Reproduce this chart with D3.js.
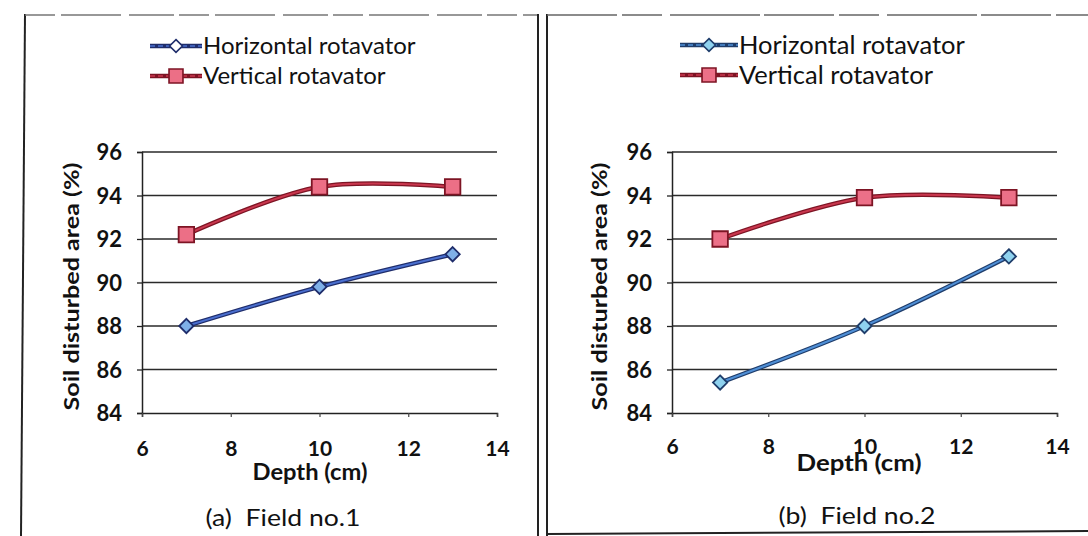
<!DOCTYPE html>
<html>
<head>
<meta charset="utf-8">
<script src="https://cdn.jsdelivr.net/npm/d3@7"></script>
<style>
  html, body { margin: 0; padding: 0; background: #fff; }
  svg { display: block; }
</style>
</head>
<body>
<svg id="chart" width="1088" height="536"></svg>
<script>
// Tillage depth (cm) and percentage of soil disturbed for both rotavators
const depths = [7, 10, 13];
const field1Horizontal = [88.0, 89.8, 91.3];
const field1Vertical   = [92.2, 94.4, 94.4];
const field2Horizontal = [85.4, 88.0, 91.2];
const field2Vertical   = [92.0, 93.9, 93.9];

const xTicks = [6, 8, 10, 12, 14];
const yTicks = [84, 86, 88, 90, 92, 94, 96];
const seriesNames = ["Horizontal rotavator", "Vertical rotavator"];
const panelCaptions = ["(a)  Field no.1", "(b)  Field no.2"];
const xTitle = "Depth (cm)";
const yTitle = "Soil disturbed area (%)";

const svg = d3.select("#chart");
const FONT = "Lato, 'Open Sans', sans-serif";

// Page frame around the two figure panels
const frame = svg.append("g").attr("stroke", "#222").attr("fill", "none");
frame.append("line").attr("x1", 25).attr("y1", 14).attr("x2", 21).attr("y2", 536).attr("stroke-width", 2);
frame.append("line").attr("x1", 25).attr("y1", 15).attr("x2", 538).attr("y2", 15)
  .attr("stroke-width", 1.5).attr("stroke", "#777").attr("stroke-dasharray", "30 6 60 8 45 5");
frame.append("line").attr("x1", 538).attr("y1", 14).attr("x2", 538).attr("y2", 536).attr("stroke-width", 2);
frame.append("line").attr("x1", 547).attr("y1", 14).attr("x2", 547).attr("y2", 536).attr("stroke-width", 2);
frame.append("line").attr("x1", 547).attr("y1", 15).attr("x2", 1088).attr("y2", 15)
  .attr("stroke-width", 1.5).attr("stroke", "#666").attr("stroke-dasharray", "70 5 40 8 90 4");
frame.append("line").attr("x1", 547).attr("y1", 534).attr("x2", 1088).attr("y2", 531).attr("stroke-width", 2);

const panels = [
  {
    horizontal: field1Horizontal, vertical: field1Vertical, caption: panelCaptions[0],
    plotX: [142, 497], plotY: [413, 152],
    legendX: 150, legendY: 46, legendGap: 30, legendLine: 52, legendFont: 24,
    yLabelRight: 122, yTitleX: 72, xLabelY: 448, xTitleY: 472, xTitleCx: 310, xTitleLen: 115,
    captionCx: 283, captionY: 517, captionLen: 155,
    hStroke: "#1f2d6b", hInner: "#4a6fcf", hFill: "#7fb0e8", hLegendFill: "#ffffff",
    vStroke: "#7d1424", vInner: "#c9374e", vFill: "#ec6f86"
  },
  {
    horizontal: field2Horizontal, vertical: field2Vertical, caption: panelCaptions[1],
    plotX: [672, 1057], plotY: [413, 152],
    legendX: 680, legendY: 45, legendGap: 30, legendLine: 58, legendFont: 25.5,
    yLabelRight: 652, yTitleX: 600, xLabelY: 446, xTitleY: 463, xTitleCx: 859, xTitleLen: 125,
    captionCx: 857, captionY: 515, captionLen: 157,
    hStroke: "#1f3d6b", hInner: "#4f8fd6", hFill: "#8fd2ef", hLegendFill: "#8fd2ef",
    vStroke: "#7d1424", vInner: "#c9374e", vFill: "#ec7088"
  }
];

const diamond = d3.symbol().type(d3.symbolDiamond2).size(130);
const square = d3.symbol().type(d3.symbolSquare).size(240);

panels.forEach(p => {
  const g = svg.append("g");
  const x = d3.scaleLinear().domain([6, 14]).range(p.plotX);
  const y = d3.scaleLinear().domain([84, 96]).range(p.plotY);

  // Horizontal gridlines
  g.append("g").selectAll("line").data(yTicks.filter(t => t > 84)).join("line")
    .attr("x1", p.plotX[0]).attr("x2", p.plotX[1])
    .attr("y1", d => y(d)).attr("y2", d => y(d))
    .attr("stroke", "#2a2a2a").attr("stroke-width", 1.3);

  // Y axis with labels
  const yAxis = g.append("g").attr("transform", `translate(${p.plotX[0]},0)`)
    .call(d3.axisLeft(y).tickValues(yTicks).tickSize(5).tickFormat(d3.format("d")));
  yAxis.select(".domain").attr("stroke", "#222").attr("stroke-width", 1.5);
  yAxis.selectAll(".tick line").attr("stroke", "#222").attr("stroke-width", 1.3);
  yAxis.selectAll(".tick text")
    .attr("x", p.yLabelRight - p.plotX[0]).attr("dy", "0.36em")
    .style("font-family", FONT).style("font-size", "22px").style("font-weight", "bold").attr("fill", "#111");

  // X axis with labels
  const xAxis = g.append("g").attr("transform", `translate(0,${p.plotY[0]})`)
    .call(d3.axisBottom(x).tickValues(xTicks).tickSize(4).tickFormat(d3.format("d")));
  xAxis.select(".domain").attr("stroke", "#222").attr("stroke-width", 1.5);
  xAxis.selectAll(".tick line").attr("stroke", "#444").attr("stroke-width", 1.2);
  xAxis.selectAll(".tick text")
    .attr("y", p.xLabelY - p.plotY[0]).attr("dy", "0.36em")
    .style("font-family", FONT).style("font-size", "21px").style("font-weight", "bold").attr("fill", "#111");

  // Axis titles
  g.append("text")
    .attr("transform", `translate(${p.yTitleX},${(p.plotY[0] + p.plotY[1]) / 2 + 4}) rotate(-90)`)
    .attr("text-anchor", "middle").attr("dy", "0.35em")
    .attr("textLength", 248).attr("lengthAdjust", "spacingAndGlyphs")
    .style("font-family", FONT).style("font-size", "20px").style("font-weight", "bold")
    .attr("fill", "#111").text(yTitle);
  g.append("text").attr("x", p.xTitleCx).attr("y", p.xTitleY).attr("dy", "0.36em")
    .attr("text-anchor", "middle")
    .attr("textLength", p.xTitleLen).attr("lengthAdjust", "spacingAndGlyphs")
    .style("font-family", FONT).style("font-size", "22px").style("font-weight", "bold")
    .attr("fill", "#111").text(xTitle);

  // Panel caption
  g.append("text").attr("x", p.captionCx).attr("y", p.captionY).attr("dy", "0.36em")
    .attr("text-anchor", "middle").style("white-space", "pre")
    .attr("textLength", p.captionLen).attr("lengthAdjust", "spacingAndGlyphs")
    .style("font-family", FONT).style("font-size", "24px").attr("fill", "#111").text(p.caption);

  // Smoothed series lines drawn as dark casing plus coloured core
  const line = d3.line().x(d => x(d[0])).y(d => y(d[1])).curve(d3.curveCatmullRom.alpha(0.5));
  const series = [
    { values: p.vertical, stroke: p.vStroke, inner: p.vInner, fill: p.vFill, shape: square },
    { values: p.horizontal, stroke: p.hStroke, inner: p.hInner, fill: p.hFill, shape: diamond }
  ];
  series.forEach(s => {
    const pts = depths.map((d, i) => [d, s.values[i]]);
    g.append("path").attr("d", line(pts)).attr("fill", "none")
      .attr("stroke", s.stroke).attr("stroke-width", 4.5);
    g.append("path").attr("d", line(pts)).attr("fill", "none")
      .attr("stroke", s.inner).attr("stroke-width", 2);
    g.selectAll(null).data(pts).join("path")
      .attr("d", s.shape)
      .attr("transform", d => `translate(${x(d[0])},${y(d[1])})`)
      .attr("fill", s.fill).attr("stroke", s.stroke).attr("stroke-width", 1.8);
  });

  // Legend
  const legendItems = [
    { name: seriesNames[0], stroke: p.hStroke, inner: p.hInner, fill: p.hLegendFill, shape: diamond },
    { name: seriesNames[1], stroke: p.vStroke, inner: p.vInner, fill: p.vFill, shape: square }
  ];
  legendItems.forEach((item, i) => {
    const ly = p.legendY + i * p.legendGap;
    const lg = g.append("g");
    lg.append("line").attr("x1", p.legendX).attr("x2", p.legendX + p.legendLine)
      .attr("y1", ly).attr("y2", ly).attr("stroke", item.stroke).attr("stroke-width", 4.5);
    lg.append("line").attr("x1", p.legendX).attr("x2", p.legendX + p.legendLine)
      .attr("y1", ly).attr("y2", ly).attr("stroke", item.inner).attr("stroke-width", 1.6)
      .attr("stroke-dasharray", "5 3");
    lg.append("path").attr("d", item.shape)
      .attr("transform", `translate(${p.legendX + p.legendLine / 2},${ly}) scale(0.9)`)
      .attr("fill", item.fill).attr("stroke", item.stroke).attr("stroke-width", 1.8);
    lg.append("text").attr("x", p.legendX + p.legendLine + 1).attr("y", ly).attr("dy", "0.35em")
      .style("font-family", FONT).style("font-size", p.legendFont + "px").attr("fill", "#111").text(item.name);
  });
});
</script>
</body>
</html>
